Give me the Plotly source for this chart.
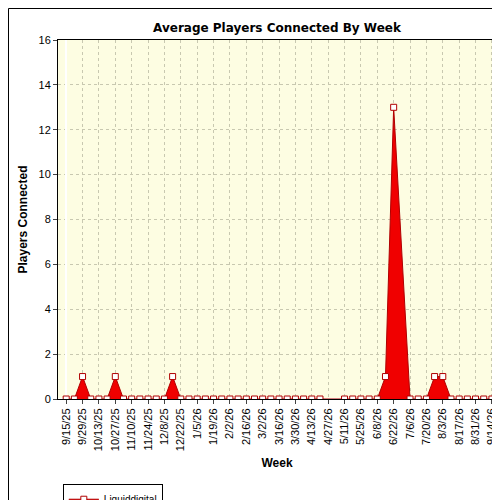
import plotly.graph_objects as go
import datetime as dt

start = dt.date(2025, 9, 15)
weeks = [start + dt.timedelta(days=7 * i) for i in range(53)]
labels = [f"{d.month}/{d.day}/{d.year % 100}" for d in weeks]
values = [0] * 53
for i in (2, 6, 13, 39, 45, 46):
    values[i] = 1
values[40] = 13
for i in (32, 33, 41):
    values[i] = None

W, H = 438, 359
fig = go.Figure(go.Scatter(
    x=list(range(53)), y=values, mode="lines+markers", fill="tozeroy", connectgaps=True,
    fillcolor="#f00000", line=dict(color="#b00000", width=1),
    marker=dict(symbol="square", size=6, color="white", line=dict(color="#b00000", width=1)),
    name="Liquiddigital", showlegend=True))

fig.update_layout(
    width=500, height=500, paper_bgcolor="white", plot_bgcolor="#fdfde2",
    margin=dict(l=50, r=12, t=32, b=109, autoexpand=False),
    title=dict(text="<b>Average Players Connected By Week</b>", x=0.5, xref="paper", y=0.968,
               font=dict(family="DejaVu Sans", size=12, color="black")),
    font=dict(family="Liberation Sans", size=11, color="black"),
    xaxis=dict(tickmode="array", tickvals=list(range(0, 53, 2)), ticktext=labels[::2], automargin=False,
               tickangle=-90, range=[-1, 52.5], showgrid=True, gridcolor="#c8c8b0", griddash="dot",
               showline=True, linecolor="black", mirror=True, ticks="outside", ticklen=4,
               title=dict(text="<b>Week</b>", font=dict(size=12), standoff=8)),
    yaxis=dict(range=[0, 16], dtick=2, showgrid=True, gridcolor="#c8c8b0", griddash="dot", automargin=False,
               showline=True, linecolor="black", mirror=True, ticks="outside", ticklen=4,
               title=dict(text="<b>Players Connected</b>", font=dict(size=12), standoff=8)),
    legend=dict(x=0.011, y=-0.236, xanchor="left", yanchor="top", bordercolor="black", borderwidth=1,
                font=dict(size=10), bgcolor="white", itemwidth=30),
    shapes=[dict(type="rect", xref="paper", yref="paper", x0=-49.5 / W, y0=-108.5 / H,
                 x1=1 + 11.5 / W, y1=1 + 31.5 / H, line=dict(color="black", width=1))],
)
fig.write_html("out.html")
